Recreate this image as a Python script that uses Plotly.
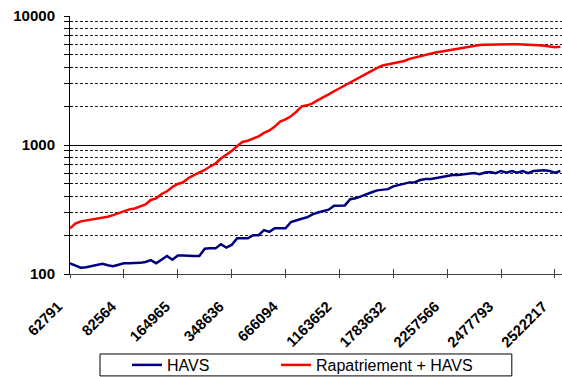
import plotly.graph_objects as go

# Category tick labels (one every 10 points along the category axis)
tick_labels = ["62791", "82564", "164965", "348636", "666094",
               "1163652", "1783632", "2257566", "2477793", "2522217"]

havs = [121, 117, 112, 113, 115, 117, 120, 117, 115, 118,
        121, 121, 121, 122, 124, 128, 121, 130, 138, 129,
        139, 139, 138, 138, 138, 157, 158, 158, 170, 160,
        168, 189, 189, 189, 200, 200, 219, 212, 226, 226,
        226, 253, 262, 268, 275, 290, 300, 308, 315, 338,
        338, 340, 380, 386, 400, 417, 430, 445, 448, 455,
        478, 490, 502, 513, 515, 535, 545, 545, 555, 565,
        575, 585, 585, 590, 593, 606, 593, 612, 618, 604,
        629, 611, 629, 611, 629, 606, 629, 633, 637, 629,
        611, 629]

rapatriement_havs = [226, 246, 256, 260, 264, 268, 272, 278, 286, 295,
                     305, 317, 322, 333, 346, 375, 386, 417, 438, 473,
                     499, 514, 555, 585, 612, 640, 681, 719, 786, 835,
                     898, 977, 1055, 1080, 1120, 1167, 1240, 1297, 1390, 1522,
                     1580, 1670, 1810, 1990, 2030, 2104, 2230, 2335, 2470, 2610,
                     2750, 2920, 3050, 3230, 3430, 3620, 3790, 3965, 4136, 4210,
                     4296, 4360, 4480, 4650, 4770, 4900, 5030, 5130, 5230, 5310,
                     5400, 5520, 5600, 5700, 5800, 5886, 5957, 5990, 6010, 6033,
                     6045, 6066, 6066, 6045, 6010, 5957, 5957, 5925, 5886, 5800,
                     5717, 5780]

major_y = [100, 1000, 10000]
minor_y = [200, 300, 400, 500, 600, 700, 800, 900,
           2000, 3000, 4000, 5000, 6000, 7000, 8000, 9000]

idx = list(range(len(havs)))
tick_idx = list(range(0, 10 * len(tick_labels), 10))
x_range = [0, 91.3]
y_range = [2, 4]

FONT = "Liberation Sans, Arial, sans-serif"
legend_font = dict(family=FONT, size=16, color="black")

fig = go.Figure()
fig.add_trace(go.Scatter(x=idx, y=havs, mode="lines", name="HAVS",
                         legend="legend",
                         line=dict(color="#000080", width=2.5)))
fig.add_trace(go.Scatter(x=idx, y=rapatriement_havs, mode="lines",
                         name="Rapatriement + HAVS", legend="legend2",
                         line=dict(color="#FF0000", width=2.5)))
# helper trace so the overlay axes (inner half of the cross tick marks) render
fig.add_trace(go.Scatter(x=[idx[0]], y=[havs[0]], xaxis="x2", yaxis="y2",
                         mode="lines", line=dict(width=0), showlegend=False,
                         hoverinfo="skip"))

# legend frame
fig.add_shape(type="rect", xref="paper", yref="paper",
              x0=0.061, x1=0.898, y0=-0.395, y1=-0.310,
              line=dict(color="black", width=1), fillcolor="rgba(0,0,0,0)")

legend_common = dict(orientation="h", xref="container", yref="container",
                     xanchor="left", y=1 - 348 / 377, yanchor="top",
                     borderwidth=0, bgcolor="rgba(0,0,0,0)",
                     font=legend_font)

fig.update_layout(
    width=562, height=377,
    margin=dict(l=70, r=0, t=16, b=103, autoexpand=False),
    paper_bgcolor="white", plot_bgcolor="white",
    showlegend=True,
    legend=dict(x=127 / 562, **legend_common),
    legend2=dict(x=276 / 562, **legend_common),
    xaxis=dict(range=x_range, tickmode="array", tickvals=tick_idx,
               ticktext=tick_labels, tickangle=-45,
               tickfont=dict(family=FONT, size=14.8, color="black",
                             weight="bold"),
               ticks="outside", ticklen=3, tickcolor="#404040",
               ticklabelstandoff=14, ticklabelshift=-12,
               ticklabeloverflow="allow", automargin=False,
               showline=True, linecolor="#404040", linewidth=1,
               showgrid=False, zeroline=False),
    yaxis=dict(type="log", range=y_range, tickmode="array",
               tickvals=major_y, ticktext=[str(v) for v in major_y],
               tickfont=dict(family=FONT, size=15, color="black",
                             weight="bold"),
               ticks="outside", ticklen=5, tickcolor="black",
               ticklabelstandoff=6, automargin=False,
               showline=True, linecolor="black", linewidth=1,
               showgrid=True, gridcolor="black", gridwidth=1,
               minor=dict(tickmode="array", tickvals=minor_y,
                          ticks="outside", ticklen=5, tickcolor="black",
                          showgrid=True, gridcolor="#222222", gridwidth=1,
                          griddash="3px,2px"),
               zeroline=False),
    xaxis2=dict(range=x_range, overlaying="x", anchor="y", side="bottom",
                tickmode="array", tickvals=tick_idx, showticklabels=False,
                ticks="inside", ticklen=5, tickcolor="#404040",
                showline=False, showgrid=False, zeroline=False),
    yaxis2=dict(type="log", range=y_range, overlaying="y", anchor="x",
                side="left", tickmode="array", tickvals=major_y,
                showticklabels=False, ticks="inside", ticklen=6,
                tickcolor="black",
                minor=dict(tickmode="array", tickvals=minor_y,
                           ticks="inside", ticklen=3, tickcolor="black"),
                showline=False, showgrid=False, zeroline=False),
)

fig.write_html("out.html")
